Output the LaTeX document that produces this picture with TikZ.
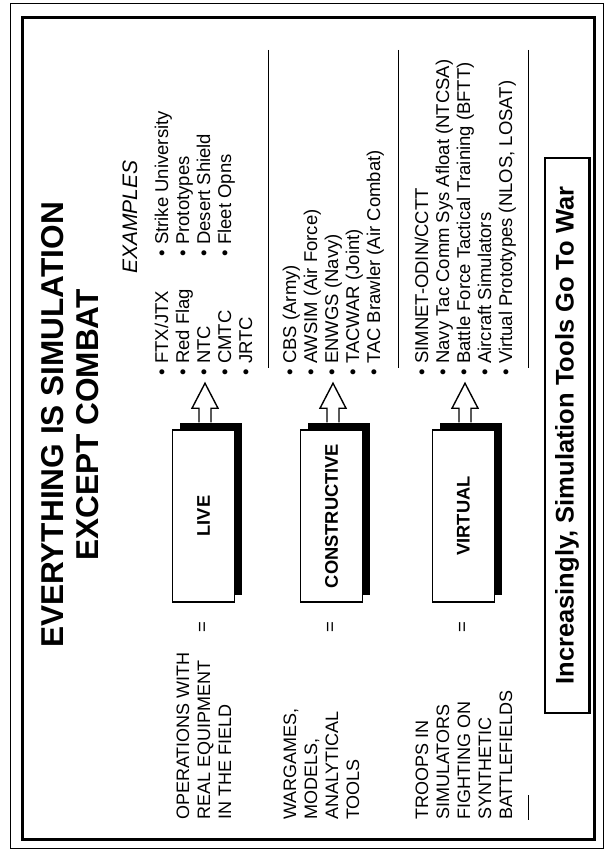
\documentclass[tikz,border=0pt]{standalone}
\usepackage{fontspec}
\setmainfont{Liberation Sans}
\usetikzlibrary{shadows,calc}
\tikzset{
  lst/.style={rotate=90, anchor=base west, inner sep=0pt, font=\fontsize{18.5}{21}\selectfont},
  dsc/.style={rotate=90, anchor=base west, inner sep=0pt, font=\fontsize{18}{21}\selectfont},
  cat/.style={draw, fill=white, line width=1.5pt, minimum width=62pt, minimum height=172pt, inner sep=0pt,
    font=\bfseries\fontsize{18.3}{21}\selectfont,
    drop shadow={shadow xshift=7pt, shadow yshift=7pt, fill=black, opacity=1}},
  eqs/.style={rotate=90, inner sep=0pt, font=\fontsize{18.5}{21}\selectfont},
  ttl/.style={rotate=90, anchor=base, inner sep=0pt, font=\bfseries\fontsize{31.6}{36}\selectfont},
  sepline/.style={line width=1pt},
  blockarrow/.style={draw, fill=white, line width=1.4pt, line join=miter},
}
\newcommand{\blt}{\textbullet\hspace{5.5pt}}
\begin{document}
\begin{tikzpicture}[x=1pt,y=-1pt]
\useasboundingbox (0,0) rectangle (606,853);
% frames
\draw[line width=0.8pt] (10,3) rectangle (603,848);
\draw[line width=3pt] (22.5,17.5) rectangle (594,839.5);

% title
\node[ttl] (t1) at (63,425) {EVERYTHING IS SIMULATION};
\node[ttl] (t2) at (98,425) {EXCEPT COMBAT};
\node[rotate=90, anchor=base, inner sep=0pt, font=\itshape\fontsize{21}{24}\selectfont] (ex) at (137,217) {EXAMPLES};

% boxes
\node[cat] (live) at (203.5,516) {\rotatebox{90}{LIVE}};
\node[cat] (cons) at (331.5,516) {\rotatebox{90}{CONSTRUCTIVE}};
\node[cat] (virt) at (463.5,516) {\rotatebox{90}{VIRTUAL}};

% block arrows
\foreach \b in {live,cons,virt}{
  \draw[blockarrow] ($(\b.north)+(-4.5,-7)$) -- ++(0,-14) -- ++(-7,0)
    -- ($(\b.north)+(1.5,-46)$) -- ($(\b.north)+(14.5,-21)$) -- ++(-7,0) -- ++(0,14);
}

% equals signs
\node[eqs] (eq1) at (203.5,627) {=};
\node[eqs] (eq2) at (331.5,627) {=};
\node[eqs] (eq3) at (463.5,627) {=};

% descriptions
\node[dsc] (d11) at (189,820) {OPERATIONS WITH};
\node[dsc] (d12) at (210,820) {REAL EQUIPMENT};
\node[dsc] (d13) at (231,820) {IN THE FIELD};
\node[dsc] (d21) at (296,820) {WARGAMES,};
\node[dsc] (d22) at (317,820) {MODELS,};
\node[dsc] (d23) at (338,820) {ANALYTICAL};
\node[dsc] (d24) at (359,820) {TOOLS};
\node[dsc] (d31) at (428,820) {TROOPS IN};
\node[dsc] (d32) at (449,820) {SIMULATORS};
\node[dsc] (d33) at (470,820) {FIGHTING ON};
\node[dsc] (d34) at (491,820) {SYNTHETIC};
\node[dsc] (d35) at (512,820) {BATTLEFIELDS};

% live examples
\node[lst] (a1) at (168.1,376) {\blt FTX/JTX};
\node[lst] (a2) at (189.1,376) {\blt Red Flag};
\node[lst] (a3) at (210.1,376) {\blt NTC};
\node[lst] (a4) at (231.1,376) {\blt CMTC};
\node[lst] (a5) at (252.1,376) {\blt JRTC};
\node[lst] (b1) at (168.1,257) {\blt Strike University};
\node[lst] (b2) at (189.1,257) {\blt Prototypes};
\node[lst] (b3) at (210.1,257) {\blt Desert Shield};
\node[lst] (b4) at (231.1,257) {\blt Fleet Opns};

% constructive examples
\node[lst] (c1) at (296.1,376) {\blt CBS (Army)};
\node[lst] (c2) at (317.1,376) {\blt AWSIM (Air Force)};
\node[lst] (c3) at (338.1,376) {\blt ENWGS (Navy)};
\node[lst] (c4) at (359.1,376) {\blt TACWAR (Joint)};
\node[lst] (c5) at (380.1,376) {\blt TAC Brawler (Air Combat)};

% virtual examples
\node[lst] (v1) at (428.1,376) {\blt SIMNET-ODIN/CCTT};
\node[lst] (v2) at (449.1,376) {\blt Navy Tac Comm Sys Afloat (NTCSA)};
\node[lst] (v3) at (470.1,376) {\blt Battle Force Tactical Training (BFTT)};
\node[lst] (v4) at (491.1,376) {\blt Aircraft Simulators};
\node[lst] (v5) at (512.1,376) {\blt Virtual Prototypes (NLOS, LOSAT)};

% separators
\draw[sepline] (268,50) -- (268,368);
\draw[sepline] (398,50) -- (398,368);
\draw[sepline] (528,50) -- (528,368);
\draw[sepline] (528,795) -- (528,820);

% bottom box
\node[draw, line width=1.3pt, minimum width=44pt, minimum height=555pt, inner sep=0pt,
  font=\bfseries\fontsize{25.5}{28}\selectfont] (war) at (567,435.5)
  {\rotatebox{90}{Increasingly, Simulation Tools Go To War}};
\draw[line width=2.2pt] ($(war.north east)+(0.6,0)$) -- ($(war.south east)+(0.6,0)$);
\end{tikzpicture}
\end{document}
